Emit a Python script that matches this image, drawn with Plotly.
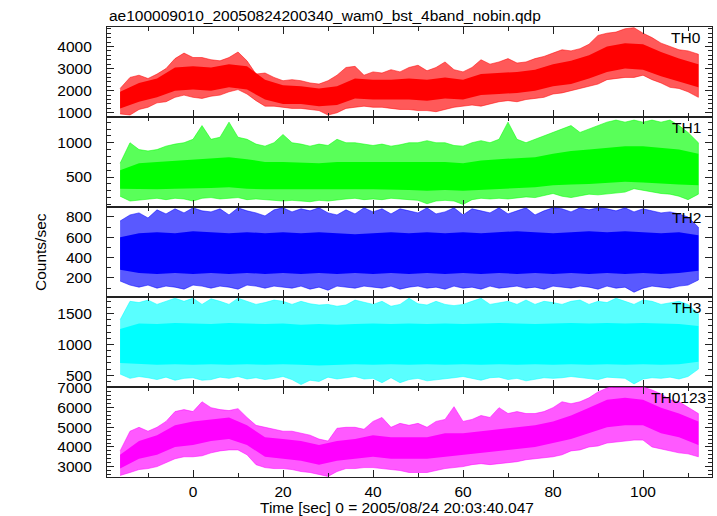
import plotly.graph_objects as go

# ---------------- data ----------------
# envelope sample times (2 s steps) and core sample times (4 s steps)
t_env = [-16.2] + list(range(-14, 112, 2)) + [112.3]
t_core = [-16.2] + list(range(-12, 112, 4)) + [112.3]

panel_names = ["TH0", "TH1", "TH2", "TH3", "TH0123"]

# TH0
th0_hi = [2100, 2600, 2700, 2550, 2750, 3000, 3450, 3700, 3500, 3500,
          3400, 3350, 3500, 3750, 3350, 2750, 2800, 2600, 2450, 2500,
          2450, 2350, 2300, 2450, 2700, 3050, 3100, 2700, 2850, 2800,
          2950, 2850, 3050, 3150, 2900, 3050, 3300, 2950, 2850, 3050,
          3400, 3200, 3300, 3450, 3250, 3300, 3450, 3550, 3700, 3850,
          3800, 3900, 4100, 4500, 4600, 4650, 4800, 4850, 4600, 4400,
          4150, 4000, 3850, 3800, 3650]
th0_lo = [950, 900, 1150, 1250, 1450, 1500, 1700, 1800, 1700, 1650,
          1750, 1800, 1950, 2050, 1850, 1550, 1300, 1300, 1250, 1200,
          1200, 1150, 1100, 900, 1000, 1200, 1250, 1300, 1250, 1250,
          1200, 1150, 1150, 1100, 1100, 1050, 1150, 1250, 1300, 1350,
          1300, 1400, 1500, 1550, 1500, 1600, 1650, 1700, 1850, 1900,
          2000, 2100, 2200, 2300, 2500, 2550, 2600, 2600, 2700, 2500,
          2350, 2150, 2100, 1950, 1700]
th0_core_top = [1950, 2350, 2550, 3050, 3100, 3050, 3200, 3100, 2500, 2250,
                2200, 2100, 2200, 2550, 2500, 2500, 2550, 2500, 2600, 2500,
                2750, 2800, 2850, 2950, 3200, 3350, 3600, 4000, 4150, 4100,
                3750, 3450, 3200]
th0_core_bot = [1200, 1500, 1700, 2000, 2050, 2000, 2150, 2050, 1600, 1400,
                1400, 1300, 1350, 1650, 1600, 1600, 1600, 1550, 1650, 1600,
                1800, 1850, 1900, 2000, 2200, 2300, 2550, 2850, 3000, 2950,
                2650, 2400, 2150]

# TH1
th1_hi = [700, 1000, 900, 880, 900, 950, 980, 1000, 1050, 1250,
          1050, 1080, 1300, 1080, 1050, 980, 950, 1000, 1120, 1000,
          980, 950, 980, 960, 1050, 1000, 1000, 980, 960, 980,
          950, 970, 1000, 1000, 1030, 1000, 1000, 960, 950, 1000,
          1030, 1000, 1050, 1300, 1050, 1000, 1050, 1100, 1150, 1200,
          1250, 1150, 1200, 1250, 1300, 1330, 1300, 1330, 1300, 1330,
          1300, 1330, 1250, 1150, 1000]
th1_lo = [220, 150, 170, 180, 190, 170, 190, 180, 150, 190,
          200, 180, 190, 200, 170, 180, 170, 160, 150, 160,
          150, 140, 160, 150, 170, 180, 190, 170, 180, 170,
          190, 180, 170, 160, 110, 150, 160, 150, 100, 170,
          190, 180, 190, 180, 200, 210, 200, 230, 260, 220,
          200, 230, 250, 240, 260, 270, 280, 330, 300, 280,
          260, 250, 220, 170, 250]
th1_core_top = [600, 700, 720, 740, 760, 780, 790, 760, 720, 720,
                710, 700, 720, 720, 720, 720, 710, 710, 720, 700,
                740, 760, 770, 790, 840, 880, 900, 930, 950, 950,
                930, 900, 840]
th1_core_bot = [330, 320, 320, 330, 340, 340, 350, 330, 320, 320,
                310, 310, 320, 320, 320, 320, 310, 300, 310, 300,
                320, 330, 340, 350, 380, 390, 400, 410, 430, 420,
                410, 390, 380]

# TH2
th2_hi = [760, 820, 840, 790, 870, 830, 880, 840, 890, 860,
          850, 880, 820, 890, 860, 840, 810, 870, 890, 850,
          880, 860, 890, 840, 820, 870, 830, 890, 850, 880,
          830, 880, 860, 840, 890, 830, 850, 890, 820, 880,
          860, 840, 890, 830, 860, 890, 820, 860, 890, 880,
          850, 890, 870, 890, 880, 860, 890, 850, 880, 860,
          840, 850, 830, 800, 700]
th2_lo = [170, 130, 110, 130, 100, 120, 110, 90, 130, 120,
          100, 120, 110, 90, 130, 120, 100, 120, 110, 100,
          120, 90, 110, 80, 120, 110, 100, 120, 110, 100,
          120, 90, 110, 120, 100, 110, 90, 120, 100, 110,
          90, 120, 100, 110, 120, 100, 110, 90, 120, 110,
          100, 120, 110, 90, 120, 100, 110, 60, 100, 120,
          110, 100, 120, 130, 180]
th2_core_top = [600, 640, 650, 640, 660, 650, 640, 650, 640, 650,
                640, 650, 640, 630, 640, 650, 640, 650, 640, 650,
                640, 650, 660, 650, 640, 650, 660, 650, 660, 650,
                640, 650, 620]
th2_core_bot = [280, 250, 240, 250, 240, 250, 240, 250, 240, 250,
                240, 250, 240, 250, 240, 250, 240, 250, 240, 250,
                240, 250, 240, 250, 240, 250, 240, 250, 240, 250,
                240, 250, 270]

# TH3
th3_hi = [1400, 1700, 1680, 1720, 1650, 1700, 1750, 1700, 1750, 1650,
          1740, 1700, 1650, 1750, 1700, 1650, 1680, 1720, 1700, 1650,
          1700, 1660, 1640, 1650, 1620, 1640, 1720, 1680, 1650, 1700,
          1620, 1650, 1750, 1660, 1640, 1700, 1650, 1630, 1650, 1700,
          1750, 1650, 1680, 1700, 1650, 1720, 1650, 1700, 1680, 1650,
          1700, 1720, 1650, 1700, 1680, 1750, 1700, 1650, 1720, 1700,
          1650, 1680, 1700, 1650, 1500]
th3_lo = [520, 450, 480, 460, 430, 470, 420, 450, 460, 420,
          430, 470, 450, 480, 440, 460, 430, 450, 480, 430,
          350, 420, 400, 470, 440, 460, 480, 440, 450, 380,
          460, 380, 430, 450, 410, 430, 440, 460, 480, 450,
          420, 460, 470, 430, 450, 410, 440, 460, 450, 460,
          480, 470, 450, 430, 470, 460, 450, 360, 440, 460,
          450, 470, 440, 480, 600]
th3_core_top = [1250, 1340, 1330, 1350, 1340, 1330, 1350, 1340, 1330, 1340,
                1320, 1330, 1320, 1330, 1340, 1330, 1340, 1330, 1340, 1330,
                1340, 1350, 1340, 1330, 1340, 1350, 1340, 1350, 1340, 1350,
                1340, 1330, 1300]
th3_core_bot = [700, 680, 670, 680, 670, 680, 670, 680, 670, 680,
                670, 660, 670, 680, 670, 680, 670, 680, 670, 680,
                670, 680, 670, 680, 670, 680, 670, 680, 670, 680,
                670, 680, 720]

# TH0123
th0123_hi = [3800, 4800, 5000, 4800, 5000, 5300, 5800, 5900, 5800, 6300,
             6000, 5900, 5850, 5950, 5500, 5100, 5000, 4900, 4800, 4800,
             4700, 4600, 4400, 4300, 4950, 5000, 5000, 4900, 5300, 5500,
             5000, 5200, 5100, 5200, 5000, 5300, 5400, 6050, 5300, 5400,
             5600, 5500, 6000, 5700, 5800, 5700, 5700, 5800, 6000, 6300,
             6200, 6300, 6500, 6800, 7000, 7100, 7100, 7100, 7050, 6900,
             6700, 6400, 6300, 6000, 5700]
th0123_lo = [2550, 2700, 2850, 2900, 3000, 3200, 3400, 3500, 3500, 3550,
             3700, 3800, 3850, 3850, 3600, 3100, 2950, 2900, 2900, 2850,
             2750, 2700, 2600, 2500, 2750, 2900, 2900, 2950, 2950, 2900,
             2850, 2800, 2700, 2700, 2700, 2800, 2900, 2950, 3000, 3100,
             3150, 3100, 3150, 3200, 3250, 3350, 3400, 3450, 3500, 3600,
             3800, 3850, 4000, 4050, 4200, 4250, 4300, 4350, 4350, 4000,
             3900, 3800, 3700, 3650, 3500]
th0123_core_top = [3600, 4300, 4600, 5100, 5300, 5400, 5500, 5100, 4500, 4400,
                   4300, 4100, 4300, 4400, 4600, 4500, 4500, 4500, 4700, 4700,
                   4800, 4900, 5000, 5100, 5300, 5600, 6000, 6400, 6500, 6400,
                   6000, 5700, 5300]
th0123_core_bot = [2900, 3400, 3600, 4000, 4100, 4300, 4400, 4100, 3500, 3400,
                   3300, 3100, 3300, 3400, 3500, 3400, 3400, 3400, 3500, 3600,
                   3700, 3800, 3900, 4000, 4200, 4400, 4700, 5000, 5100, 5100,
                   4700, 4500, 4100]

# axis ranges and tick steps
y_ranges = [[810, 4880], [63, 1375], [13, 898], [310, 1770], [2471, 7051]]
y_dticks = [1000, 500, 200, 500, 1000]
y_minor = [200, 100, 100, 100, 200]
x_range = [-19.11, 115.33]

title_text = "ae100009010_20050824200340_wam0_bst_4band_nobin.qdp"
x_title = "Time [sec] 0 = 2005/08/24 20:03:40.047"
y_title = "Counts/sec"

# ---------------- styling ----------------
colors = ["#ff0000", "#00ff00", "#0000ff", "#00ffff", "#ff00ff"]
fringe = ["rgba(255,0,0,0.65)", "rgba(0,255,0,0.65)", "rgba(0,0,255,0.65)",
          "rgba(0,255,255,0.65)", "rgba(255,0,255,0.65)"]
FONT = "Liberation Sans, Arial, Helvetica, sans-serif"
FS = 15.5
AX = "#222222"

series = [
    (th0_hi, th0_lo, th0_core_top, th0_core_bot),
    (th1_hi, th1_lo, th1_core_top, th1_core_bot),
    (th2_hi, th2_lo, th2_core_top, th2_core_bot),
    (th3_hi, th3_lo, th3_core_top, th3_core_bot),
    (th0123_hi, th0123_lo, th0123_core_top, th0123_core_bot),
]

fig = go.Figure()
n = len(series)
for k, (hi, lo, ct, cb) in enumerate(series):
    i = k + 1
    xa = "x" if i == 1 else f"x{i}"
    ya = "y" if i == 1 else f"y{i}"
    fig.add_trace(go.Scatter(
        x=t_env + t_env[::-1], y=hi + lo[::-1], xaxis=xa, yaxis=ya,
        mode="lines", fill="toself", fillcolor=fringe[k],
        line=dict(width=0.8, color=fringe[k]), hoverinfo="skip", showlegend=False))
    fig.add_trace(go.Scatter(
        x=t_core + t_core[::-1], y=ct + cb[::-1], xaxis=xa, yaxis=ya,
        mode="lines", fill="toself", fillcolor=colors[k],
        line=dict(width=0), hoverinfo="skip", showlegend=False))

layout = dict(
    width=717, height=516,
    margin=dict(l=107, r=5, t=27, b=39, autoexpand=False),
    paper_bgcolor="white", plot_bgcolor="white",
    font=dict(family=FONT, size=FS, color="black"),
    showlegend=False,
)

for k in range(n):
    i = k + 1
    xk = "xaxis" if i == 1 else f"xaxis{i}"
    yk = "yaxis" if i == 1 else f"yaxis{i}"
    top = 1 - k / n
    bot = 1 - (k + 1) / n
    layout[xk] = dict(
        domain=[0, 1], anchor="y" if i == 1 else f"y{i}",
        range=x_range, showgrid=False, zeroline=False, automargin=False,
        showline=True, linecolor=AX, linewidth=1.2, mirror="ticks",
        ticks="inside", ticklen=7, tickwidth=1, tickcolor=AX,
        tick0=0, dtick=20,
        minor=dict(ticks="inside", ticklen=3.5, dtick=10, tick0=0, tickcolor=AX, showgrid=False),
        showticklabels=(i == n),
        tickfont=dict(family=FONT, size=FS, color="black"),
        ticklabelstandoff=0,
    )
    if i != 1:
        layout[xk]["matches"] = "x"
    layout[yk] = dict(
        domain=[bot, top], anchor="x" if i == 1 else f"x{i}",
        range=y_ranges[k], showgrid=False, zeroline=False, automargin=False,
        showline=True, linecolor=AX, linewidth=1.2, mirror="ticks",
        ticks="inside", ticklen=7, tickwidth=1, tickcolor=AX,
        tick0=0, dtick=y_dticks[k],
        minor=dict(ticks="inside", ticklen=3.5, dtick=y_minor[k], tick0=0, tickcolor=AX, showgrid=False),
        tickfont=dict(family=FONT, size=FS, color="black"),
        ticklabelstandoff=11,
    )

fig.update_layout(**layout)

ann = []
ann.append(dict(text=title_text, xref="paper", yref="paper", x=0, y=(477 - 15.5) / 450,
                xanchor="left", yanchor="middle", showarrow=False,
                font=dict(family=FONT, size=FS, color="black")))
ann.append(dict(text=x_title, xref="paper", yref="paper", x=(396.5 - 107) / 605, y=(477 - 507) / 450,
                xanchor="center", yanchor="middle", showarrow=False,
                font=dict(family=FONT, size=FS, color="black")))
ann.append(dict(text=y_title, xref="paper", yref="paper", x=(40 - 107) / 605, y=0.5,
                xanchor="center", yanchor="middle", showarrow=False, textangle=-90,
                font=dict(family=FONT, size=FS, color="black")))
label_right = [702.5, 702.5, 702.5, 702.5, 708]
for k, name in enumerate(panel_names):
    i = k + 1
    ann.append(dict(text=name, xref="paper", yref=("y" if i == 1 else f"y{i}") + " domain",
                    x=(label_right[k] - 107) / 605, y=1 - 10.5 / 90,
                    xanchor="right", yanchor="middle", showarrow=False,
                    font=dict(family=FONT, size=FS, color="black")))
fig.update_layout(annotations=ann)

fig.write_html("out.html", config={"displayModeBar": False},
               post_script="document.body.style.margin='0px';document.body.style.overflow='hidden';")
